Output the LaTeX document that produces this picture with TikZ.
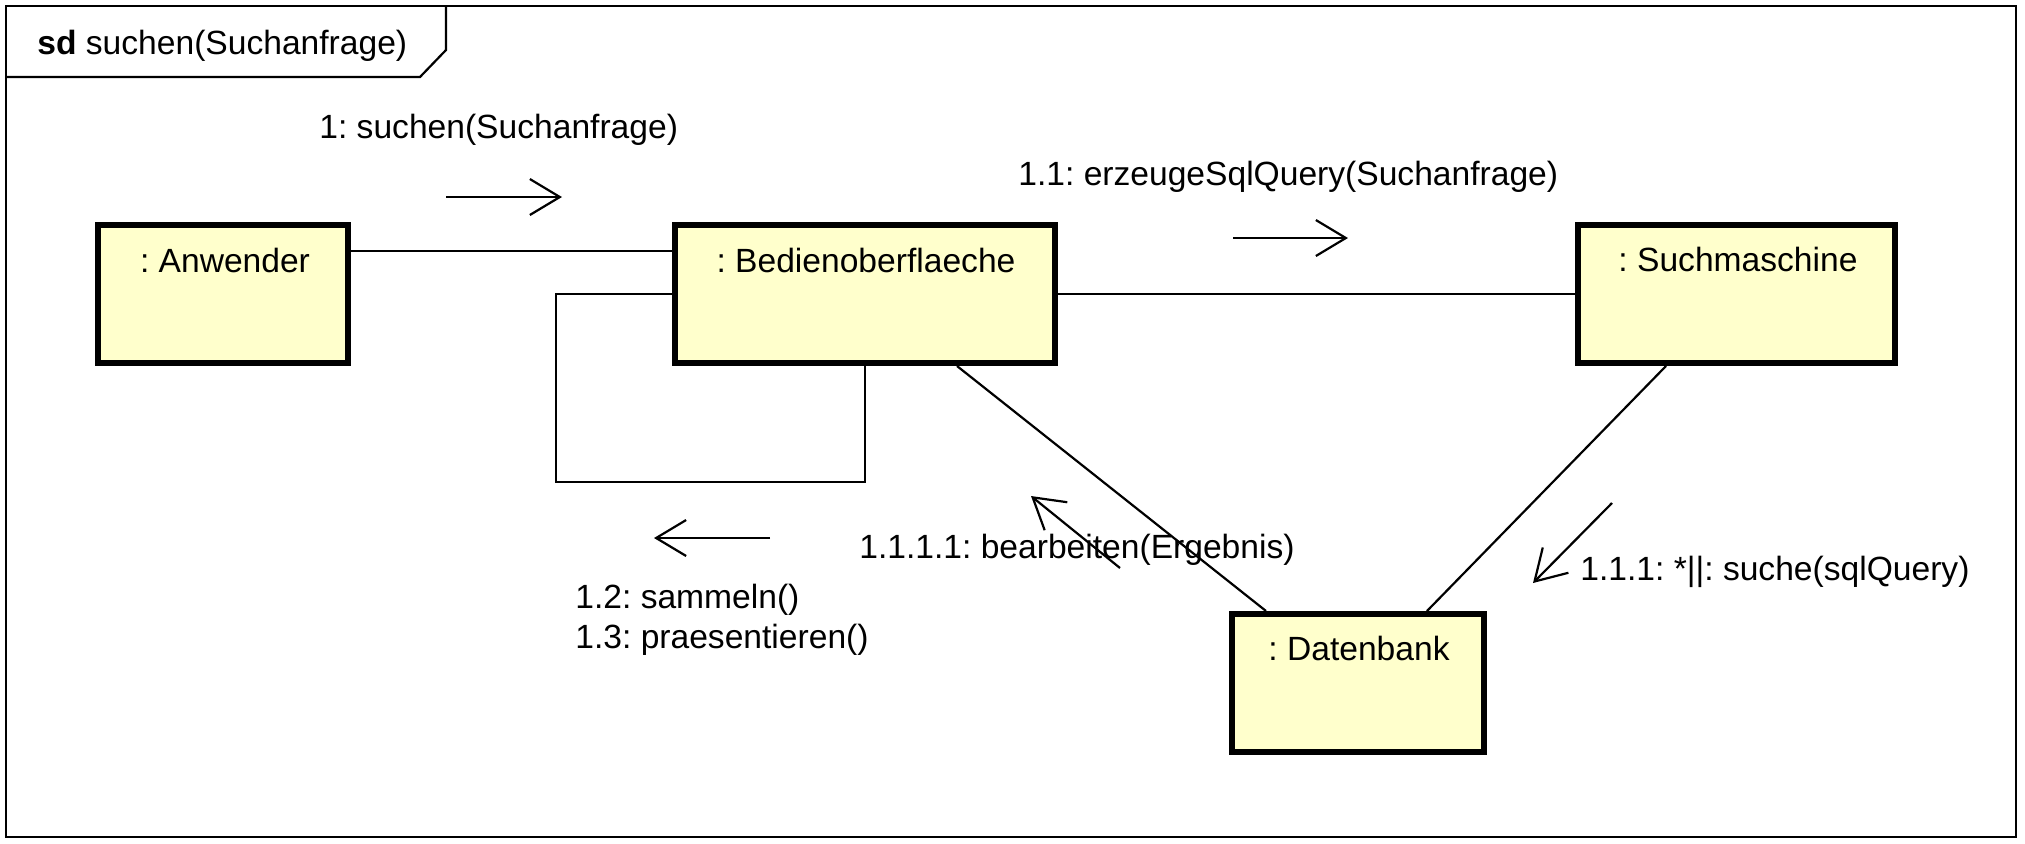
\documentclass[tikz,border=0pt]{standalone}
\usepackage{fontspec}
\setmainfont{Liberation Sans}
\usetikzlibrary{arrows.meta,calc}
\definecolor{objfill}{RGB}{255,255,204}
\frenchspacing
\begin{document}
\begin{tikzpicture}[x=0.5pt,y=-0.5pt,
  obj/.style={draw=black, line width=3pt, fill=objfill, rectangle, inner sep=0pt, minimum height=69pt},
  lbl/.style={inner sep=0pt, font=\fontsize{16.8}{20}\selectfont},
  conn/.style={line width=1.1pt},
  msg/.style={line width=1.1pt, -{Straight Barb[length=15pt,width=18pt,line width=1.1pt]}},
  frm/.style={line width=1.1pt}
]
\useasboundingbox (0,0) rectangle (2025,843);
\fill[white] (0,0) rectangle (2025,843);
% frame
\draw[frm] (6,6) rectangle (2016,837);
\draw[frm] (446,6) -- (446,50) -- (420,77) -- (6,77);
\node[lbl, anchor=west] (title) at (37,46) {\textbf{sd} suchen(Suchanfrage)};
% objects
\node[obj, minimum width=125pt] (anw) at (223,294) {};
\node[obj, minimum width=190pt] (bed) at (865,294) {};
\node[obj, minimum width=158.5pt] (such) at (1736.5,294) {};
\node[obj, minimum width=126pt] (dat) at (1358,683) {};
\node[lbl] (anwt) at (225,260) {: Anwender};
\node[lbl] (bedt) at (866,260) {: Bedienoberflaeche};
\node[lbl] (sucht) at (1738,259) {: Suchmaschine};
\node[lbl] (datt) at (1359,648) {: Datenbank};
% links
\draw[conn] ([yshift=-14.5pt]anw.north east) -- ([yshift=-14.5pt]bed.north west);
\draw[conn] (bed.east) -- (such.west);
\coordinate (loopc) at (556,482);
\draw[conn] (bed.west) -| (loopc) -| (bed.south);
\draw[conn] ([xshift=46pt]bed.south) -- ([xshift=-46pt]dat.north);
\draw[conn] ([xshift=-35.25pt]such.south) -- ([xshift=34.5pt]dat.north);
% messages
\coordinate (m1s) at (446,197);
\coordinate (m1e) at (562,197);
\draw[msg] (m1s) -- (m1e);
\node[lbl, anchor=west] (m1) at (319,130) {1: suchen(Suchanfrage)};
\coordinate (m11s) at (1233,238);
\coordinate (m11e) at (1348,238);
\draw[msg] (m11s) -- (m11e);
\node[lbl, anchor=west] (m11) at (1018,177) {1.1: erzeugeSqlQuery(Suchanfrage)};
\coordinate (m12s) at (770,538);
\coordinate (m12e) at (654,538);
\draw[msg] (m12s) -- (m12e);
\node[lbl, anchor=west] (m12) at (575,600) {1.2: sammeln()};
\node[lbl, anchor=west] (m13) at (575,640) {1.3: praesentieren()};
\coordinate (m1111s) at (1120,568);
\coordinate (m1111e) at (1031,496);
\draw[msg] (m1111s) -- (m1111e);
\node[lbl, anchor=west] (m1111) at (859,550) {1.1.1.1: bearbeiten(Ergebnis)};
\coordinate (m111s) at (1612,503);
\coordinate (m111e) at (1533,583);
\draw[msg] (m111s) -- (m111e);
\node[lbl, anchor=west] (m111) at (1580,572) {1.1.1: *||: suche(sqlQuery)};
\end{tikzpicture}
\end{document}
